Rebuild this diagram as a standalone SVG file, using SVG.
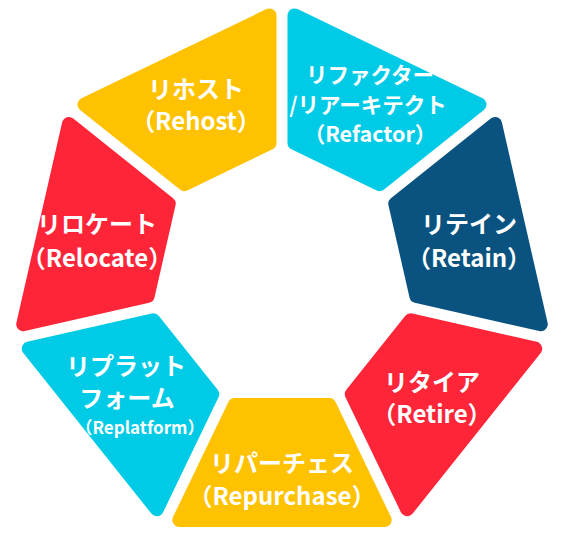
<svg xmlns="http://www.w3.org/2000/svg" xmlns:xlink="http://www.w3.org/1999/xlink" width="563" height="542" viewBox="0 0 563 542">
<style>
.seg{stroke-width:14;stroke-linejoin:round}
.y{fill:#FEC200;stroke:#FEC200}
.c{fill:#00CBE6;stroke:#00CBE6}
.r{fill:#FE2538;stroke:#FE2538}
.n{fill:#0A5380;stroke:#0A5380}
text{font-family:"Noto Sans CJK JP","Noto Sans",sans-serif;font-weight:bold;fill:#fff;font-size:24px;text-anchor:middle}
.s{font-size:21.5px}
.xs{font-size:17px}
</style>
<defs>
<polygon id="seg" points="179.32,520 384.68,520 329.29,405 234.71,405"/>
</defs>
<rect width="563" height="542" fill="#fff"/>
<g id="repurchase">
<use xlink:href="#seg" class="seg y"/>
<text x="282" y="472">リパーチェス</text>
<text x="282" y="505">（Repurchase）</text>
</g>
<g id="replatform">
<use xlink:href="#seg" class="seg c" transform="rotate(51.4286 282 278)"/>
<text x="126" y="375">リプラット</text>
<text x="127" y="407">フォーム</text>
<text x="140" y="434" class="xs">（Replatform）</text>
</g>
<g id="relocate">
<use xlink:href="#seg" class="seg r" transform="rotate(102.857 282 278)"/>
<text x="97" y="233">リロケート</text>
<text x="97" y="267">（Relocate）</text>
</g>
<g id="rehost">
<use xlink:href="#seg" class="seg y" transform="rotate(154.286 282 278)"/>
<text x="196" y="98">リホスト</text>
<text x="196" y="130">（Rehost）</text>
</g>
<g id="refactor">
<use xlink:href="#seg" class="seg c" transform="rotate(205.714 282 278)"/>
<text x="370" y="83" class="s">リファクター</text>
<text x="368" y="113" class="s">/リアーキテクト</text>
<text x="370" y="142" class="s">（Refactor）</text>
</g>
<g id="retain">
<use xlink:href="#seg" class="seg n" transform="rotate(257.143 282 278)"/>
<text x="469" y="233">リテイン</text>
<text x="469" y="267">（Retain）</text>
</g>
<g id="retire">
<use xlink:href="#seg" class="seg r" transform="rotate(308.571 282 278)"/>
<text x="432" y="391">リタイア</text>
<text x="432" y="423">（Retire）</text>
</g>
<g id="connectors"/>
</svg>
